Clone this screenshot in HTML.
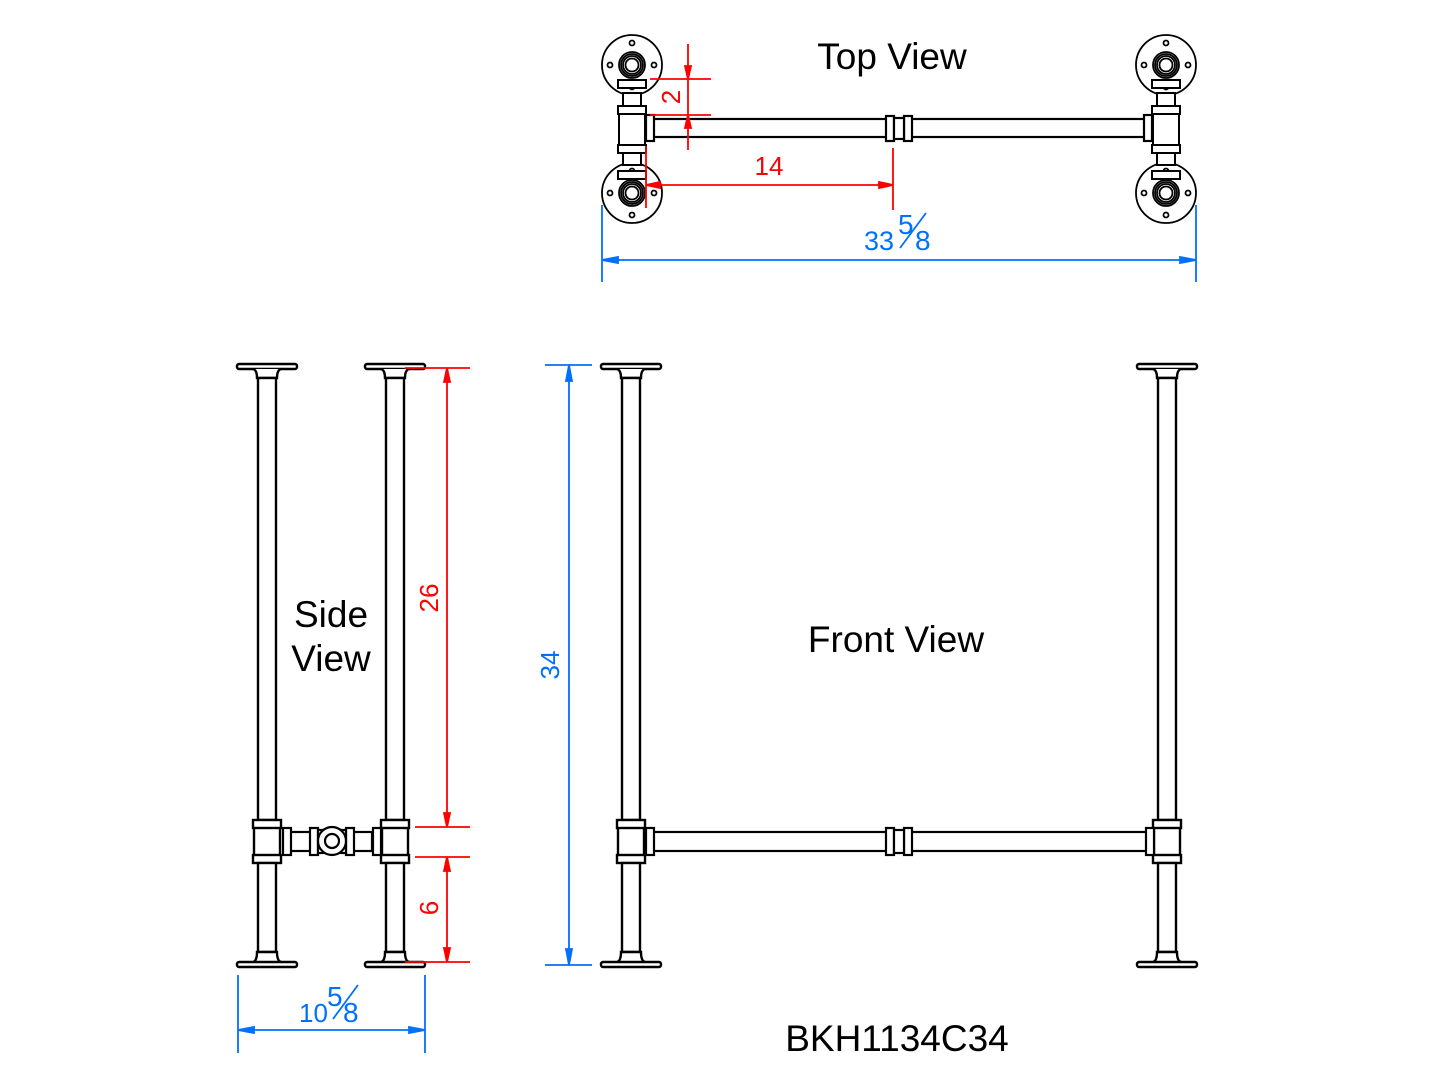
<!DOCTYPE html>
<html><head><meta charset="utf-8"><style>
html,body{margin:0;padding:0;background:#fff}
svg{display:block}
text{font-family:"Liberation Sans",sans-serif}
</style></head><body>
<svg width="1445" height="1084" viewBox="0 0 1445 1084" xmlns="http://www.w3.org/2000/svg">
<defs>
<g id="leg" fill="#fff" stroke="#000" stroke-width="2.4">
  <rect x="-30" y="364" width="60" height="5" rx="2"/>
  <path d="M-14 369 Q-10 370 -10 378 L10 378 Q10 370 14 369"/>
  <rect x="-9" y="378" width="18" height="442"/>
  <rect x="-13" y="826" width="26" height="31"/>
  <rect x="-14" y="820" width="28" height="8"/>
  <rect x="-14" y="855" width="28" height="8"/>
  <rect x="-9" y="863" width="18" height="89"/>
  <path d="M-14 962 Q-10 961 -10 952 L10 952 Q10 961 14 962"/>
  <rect x="-30" y="962" width="60" height="5" rx="2"/>
</g>
<g id="fl" fill="#fff" stroke="#000" stroke-width="1.8">
  <circle r="30"/>
  <circle r="13"/><circle r="11"/><circle r="9"/><circle r="6.5"/>
  <circle cx="-22" r="2.5"/><circle cx="22" r="2.5"/><circle cy="-22" r="2.5"/><circle cy="22" r="2.5"/>
</g>
<g id="tv" fill="#fff" stroke="#000" stroke-width="2">
  <rect x="-9" y="93" width="18" height="72"/>
  <rect x="-13" y="112" width="26" height="34"/>
  <rect x="-14" y="80" width="28" height="8"/>
  <rect x="-14" y="106" width="28" height="8"/>
  <rect x="-14" y="145" width="28" height="8"/>
  <rect x="-14" y="171" width="28" height="8"/>
</g>
</defs>

<!-- Top view -->
<text x="892" y="69" font-size="37" text-anchor="middle">Top View</text>
<g stroke="#000" stroke-width="2.2" fill="#fff">
  <rect x="650" y="119" width="500" height="18"/>
  <rect x="886" y="116" width="8" height="25"/><rect x="904" y="116" width="8" height="25"/>
  <rect x="894" y="118" width="10" height="21"/>
  <rect x="646" y="115" width="8" height="26"/><rect x="1144" y="115" width="8" height="26"/>
</g>
<use href="#fl" x="632" y="65"/><use href="#fl" x="632" y="193"/>
<use href="#fl" x="1166" y="65"/><use href="#fl" x="1166" y="193"/>
<use href="#tv" x="632" y="0"/><use href="#tv" x="1166" y="0"/>

<!-- red top dims -->
<g stroke="#f00" stroke-width="1.8" fill="#f00">
  <line x1="650" y1="79" x2="711" y2="79"/>
  <line x1="650" y1="115" x2="711" y2="115"/>
  <line x1="688" y1="44" x2="688" y2="150"/>
  <path d="M688 79 L685 66 L691 66Z"/>
  <path d="M688 115 L685 128 L691 128Z"/>
  <line x1="646" y1="146" x2="646" y2="208"/>
  <line x1="893" y1="148" x2="893" y2="210"/>
  <line x1="646" y1="185" x2="893" y2="185"/>
  <path d="M646 185 L660 182 L660 188Z"/>
  <path d="M893 185 L879 182 L879 188Z"/>
</g>
<text x="769" y="175" font-size="26" fill="#f00" text-anchor="middle">14</text>
<text transform="translate(680,97) rotate(-90)" font-size="26" fill="#f00" text-anchor="middle">2</text>

<!-- blue top dim -->
<g stroke="#0070ff" stroke-width="1.8" fill="#0070ff">
  <line x1="602" y1="205" x2="602" y2="282"/>
  <line x1="1196" y1="205" x2="1196" y2="282"/>
  <line x1="602" y1="260" x2="1196" y2="260"/>
  <path d="M602 260 L618 257 L618 263Z"/>
  <path d="M1196 260 L1180 257 L1180 263Z"/>
  <line x1="900" y1="248" x2="926" y2="213"/>
</g>
<g fill="#0070ff">
  <text x="864" y="250" font-size="27">33</text>
  <text x="898" y="234" font-size="28">5</text>
  <text x="915" y="250" font-size="28">8</text>
</g>

<!-- Side view -->
<use href="#leg" x="267" y="0"/><use href="#leg" x="395" y="0"/>
<g stroke="#000" stroke-width="2.2" fill="#fff">
  <rect x="290" y="832" width="82" height="19"/>
  <rect x="283" y="828" width="8" height="27"/><rect x="373" y="828" width="8" height="27"/>
  <rect x="310" y="828" width="8" height="27"/><rect x="346" y="828" width="8" height="27"/>
  <rect x="318" y="830" width="28" height="23"/>
  <circle cx="332" cy="841" r="14"/><circle cx="332" cy="841" r="7"/>
</g>
<text x="331" y="627" font-size="37" text-anchor="middle">Side</text>
<text x="331" y="671" font-size="37" text-anchor="middle">View</text>
<g stroke="#f00" stroke-width="1.8" fill="#f00">
  <line x1="405" y1="368" x2="470" y2="368"/>
  <line x1="415" y1="827" x2="470" y2="827"/>
  <line x1="415" y1="857" x2="470" y2="857"/>
  <line x1="405" y1="962" x2="470" y2="962"/>
  <line x1="447" y1="368" x2="447" y2="827"/>
  <line x1="447" y1="857" x2="447" y2="962"/>
  <path d="M447 368 L444 382 L450 382Z"/><path d="M447 827 L444 813 L450 813Z"/>
  <path d="M447 857 L444 871 L450 871Z"/><path d="M447 962 L444 948 L450 948Z"/>
</g>
<text transform="translate(438,598) rotate(-90)" font-size="26" fill="#f00" text-anchor="middle">26</text>
<text transform="translate(438,908) rotate(-90)" font-size="26" fill="#f00" text-anchor="middle">6</text>
<g stroke="#0070ff" stroke-width="1.8" fill="#0070ff">
  <line x1="238" y1="975" x2="238" y2="1053"/>
  <line x1="425" y1="975" x2="425" y2="1053"/>
  <line x1="238" y1="1030" x2="425" y2="1030"/>
  <path d="M238 1030 L254 1027 L254 1033Z"/><path d="M425 1030 L409 1027 L409 1033Z"/>
  <line x1="333" y1="1019" x2="358" y2="985"/>
</g>
<g fill="#0070ff">
  <text x="299" y="1022" font-size="26">10</text>
  <text x="327" y="1006" font-size="28">5</text>
  <text x="343" y="1022" font-size="28">8</text>
</g>

<!-- 34 dim -->
<g stroke="#0070ff" stroke-width="1.8" fill="#0070ff">
  <line x1="545" y1="365" x2="592" y2="365"/>
  <line x1="545" y1="965" x2="592" y2="965"/>
  <line x1="569" y1="365" x2="569" y2="965"/>
  <path d="M569 365 L566 381 L572 381Z"/><path d="M569 965 L566 949 L572 949Z"/>
</g>
<text transform="translate(559,665) rotate(-90)" font-size="26" fill="#0070ff" text-anchor="middle">34</text>

<!-- Front view -->
<use href="#leg" x="631" y="0"/><use href="#leg" x="1167" y="0"/>
<g stroke="#000" stroke-width="2.2" fill="#fff">
  <rect x="652" y="832" width="496" height="19"/>
  <rect x="646" y="828" width="8" height="27"/><rect x="1146" y="828" width="8" height="27"/>
  <rect x="886" y="828" width="8" height="27"/><rect x="904" y="828" width="8" height="27"/>
  <rect x="894" y="830" width="10" height="23"/>
</g>
<text x="896" y="652" font-size="37" text-anchor="middle">Front View</text>
<text x="897" y="1051" font-size="37" text-anchor="middle">BKH1134C34</text>
</svg>
</body></html>
